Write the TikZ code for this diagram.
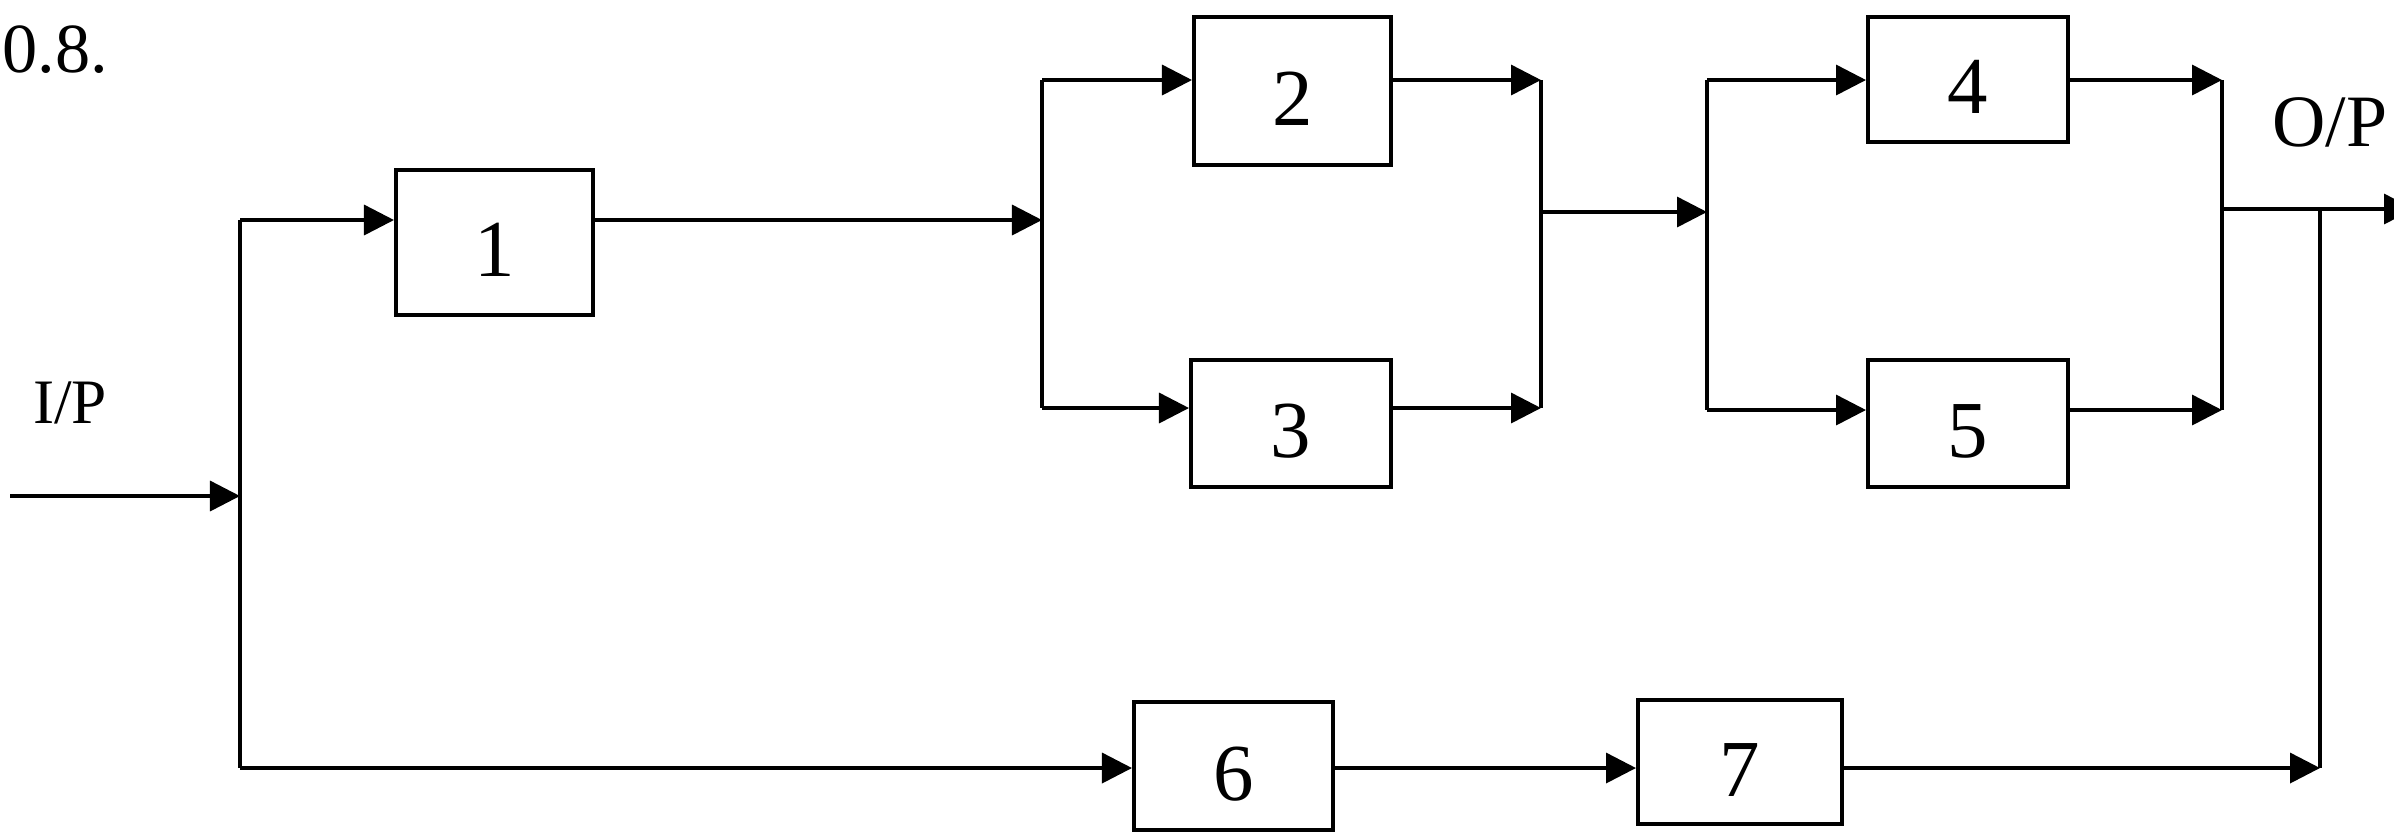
\documentclass[tikz,border=0pt]{standalone}
\usepackage{fontspec}
\setmainfont{Liberation Serif}
\usetikzlibrary{arrows.meta}
\begin{document}
\begin{tikzpicture}[x=0.01cm,y=-0.01cm,
  wire/.style={line width=1pt},
  flow/.style={wire,-{Triangle[length=0.3cm,width=0.3cm]}},
  blk/.style={draw,line width=1.1pt,inner sep=0pt,anchor=north west,
              text height=0.68cm,text depth=0pt,
              font=\fontsize{23}{27}\selectfont},
  lbl/.style={inner sep=0pt}]
\useasboundingbox (0,0) rectangle (2394,832);
\fill[white] (0,0) rectangle (2394,832);

% blocks
\node[blk,minimum width=1.97cm,minimum height=1.45cm] (b1) at (394,168) {1};
\node[blk,minimum width=1.97cm,minimum height=1.48cm] (b2) at (1192,15) {2};
\node[blk,minimum width=2.00cm,minimum height=1.27cm] (b3) at (1189,358) {3};
\node[blk,minimum width=2.00cm,minimum height=1.25cm] (b4) at (1866,15) {4};
\node[blk,minimum width=2.00cm,minimum height=1.27cm] (b5) at (1866,358) {5};
\node[blk,minimum width=1.99cm,minimum height=1.28cm] (b6) at (1132,700) {6};
\node[blk,minimum width=2.04cm,minimum height=1.24cm] (b7) at (1636,698) {7};

% labels
\node[lbl,font=\fontsize{18}{22}\selectfont] (ip) at (70,403) {I/P};
\node[lbl,font=\fontsize{21}{25}\selectfont] (op) at (2330,122) {O/P};
\node[lbl,anchor=west,font=\fontsize{20}{24}\selectfont] (qn) at (2,50) {0.8.};

% branch points
\coordinate (in)   at (10,496);
\coordinate (sA)   at (240,496);
\coordinate (sAt)  at (240,220);
\coordinate (sAb)  at (240,768);
\coordinate (bA)   at (1042,220);
\coordinate (bAt)  at (1042,80);
\coordinate (bAb)  at (1042,408);
\coordinate (bB)   at (1541,212);
\coordinate (bBt)  at (1541,80);
\coordinate (bBb)  at (1541,408);
\coordinate (bC)   at (1707,212);
\coordinate (bCt)  at (1707,80);
\coordinate (bCb)  at (1707,410);
\coordinate (bD)   at (2222,209);
\coordinate (bDt)  at (2222,80);
\coordinate (bDb)  at (2222,410);
\coordinate (out)  at (2414,209);
\coordinate (tap)  at (2320,209);
\coordinate (tapb) at (2320,768);

% input and first split
\draw[flow] (in) -- (sA);
\draw[wire] (sAt) -- (sAb);
\draw[flow] (sAt) -- (sAt -| b1.west);
\draw[flow] (sAb) -- (sAb -| b6.west);

% block 1 into the 2/3 parallel pair
\draw[flow] (b1.east |- bA) -- (bA);
\draw[wire] (bAt) -- (bAb);
\draw[flow] (bAt) -- (bAt -| b2.west);
\draw[flow] (bAb) -- (bAb -| b3.west);
\draw[flow] (b2.east |- bBt) -- (bBt);
\draw[flow] (b3.east |- bBb) -- (bBb);
\draw[wire] (bBt) -- (bBb);

% the 4/5 parallel pair
\draw[flow] (bB) -- (bC);
\draw[wire] (bCt) -- (bCb);
\draw[flow] (bCt) -- (bCt -| b4.west);
\draw[flow] (bCb) -- (bCb -| b5.west);
\draw[flow] (b4.east |- bDt) -- (bDt);
\draw[flow] (b5.east |- bDb) -- (bDb);
\draw[wire] (bDt) -- (bDb);
\draw[flow] (bD) -- (out);

% lower path through 6 and 7
\draw[flow] (b6.east |- tapb) -- (b7.west |- tapb);
\draw[flow] (b7.east |- tapb) -- (tapb);
\draw[wire] (tapb) -- (tap);
\end{tikzpicture}
\end{document}
